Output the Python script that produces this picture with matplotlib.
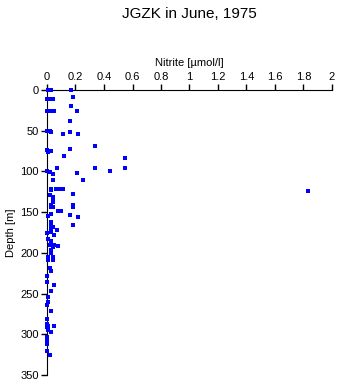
import numpy as np
import matplotlib.pyplot as plt
from matplotlib.ticker import FuncFormatter

# nitrite [umol/l] and depth [m]
nitrite = [0.01, 0.03, 0.17, 0.18, 0.0, 0.02, 0.04, 0.17, 0.21, 0.0, 0.02, 0.05,
           0.16, 0.0, 0.02, 0.03, 0.11, 0.16, 0.22, 0.34, 0.16, 0.0, 0.01, 0.03,
           0.12, 0.55, 0.34, 0.55, 0.44, 0.07, 0.0, 0.02, 0.04, 0.21, 0.25, 0.04,
           0.03, 0.06, 0.09, 0.11, 0.03, 1.83, 0.18, 0.02, 0.04, 0.04, 0.03, 0.18,
           0.04, 0.03, 0.04, 0.18, 0.08, 0.10, 0.03, 0.16, 0.22, 0.01, 0.18, 0.03,
           0.03, 0.03, 0.03, 0.04, 0.07, 0.0, 0.05, 0.01, 0.03, 0.05, 0.08, 0.02,
           0.04, 0.03, 0.03, 0.01, 0.04, 0.01, 0.04, 0.02, 0.03, 0.0, 0.0, 0.05,
           0.03, 0.01, 0.01, 0.0, 0.03, 0.0, 0.0, 0.01, 0.05, 0.0, 0.01, 0.03,
           0.0, 0.0, 0.0, 0.0, 0.02]
depth = [0, 0, 0, 9, 11, 11, 11, 20, 26, 26, 26, 26,
         38, 50, 50, 51, 54, 51, 54, 69, 73, 74, 76, 75,
         81, 84, 96, 96, 99, 96, 100, 101, 103, 102, 110, 110,
         121, 121, 121, 121, 123, 124, 128, 129, 131, 135, 141, 141,
         137, 144, 144, 144, 149, 149, 152, 153, 156, 155, 166, 162,
         164, 170, 174, 168, 172, 176, 178, 183, 186, 190, 192, 190,
         193, 197, 200, 205, 205, 209, 209, 218, 222, 228, 236, 240,
         247, 254, 260, 264, 272, 281, 287, 290, 290, 291, 295, 297,
         303, 307, 312, 320, 326]

xticks = np.arange(0, 2.01, 0.2)
yticks = np.arange(0, 351, 50)

plt.rcParams['font.family'] = ['Liberation Sans', 'DejaVu Sans']
fig = plt.figure(figsize=(3.38, 3.84), dpi=100)
ax = fig.add_axes([47/338, 1-375/384, 285/338, 285/384])

ax.plot(nitrite, depth, 's', color='blue', ms=2.4, mew=0, clip_on=False, zorder=5)

ax.set_xlim(0, 2)
ax.set_ylim(350, 0)
ax.set_xticks(xticks)
ax.set_yticks(yticks)
ax.xaxis.set_major_formatter(FuncFormatter(lambda v, p: '%g' % round(v, 1)))
ax.xaxis.tick_top()
ax.xaxis.set_label_position('top')
for s in ['right', 'bottom']:
    ax.spines[s].set_visible(False)
ax.tick_params(axis='both', direction='out', length=4, width=1, labelsize=8, pad=2)
ax.set_xlabel('Nitrite [µmol/l]', fontsize=8, labelpad=4)
ax.set_ylabel('Depth [m]', fontsize=8, labelpad=3)

fig.text(189.5/338, 1-14/384, 'JGZK in June, 1975', ha='center', va='center', fontsize=11)

fig.savefig('out.png', dpi=100)
